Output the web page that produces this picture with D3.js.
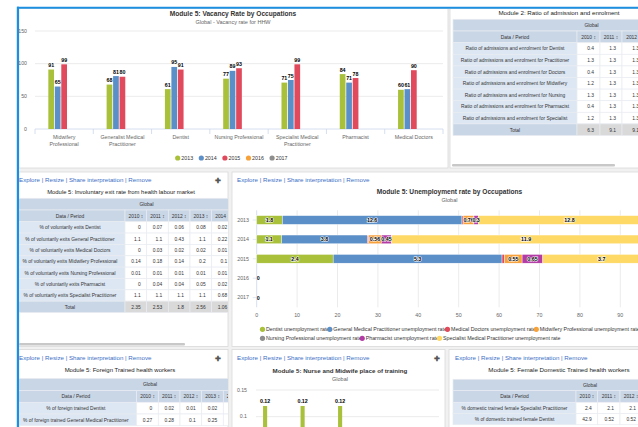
<!DOCTYPE html>
<html><head><meta charset="utf-8">
<script src="https://cdn.jsdelivr.net/npm/d3@7"></script>
<style>
html,body{margin:0;padding:0;background:#fff;overflow:hidden}
svg{display:block;font-family:"Liberation Sans",Arial,sans-serif}
</style></head><body>
<svg id="c" width="638" height="427"></svg>
<script>
// ---------------- DATA ----------------
// Vacancy rate chart
const vacancyCategories = ["Midwifery Professional","Generalist Medical Practitioner","Dentist","Nursing Professional","Specialist Medical Practitioner","Pharmacist","Medical Doctors"];
const vacancyCategoryLines = [["Midwifery","Professional"],["Generalist Medical","Practitioner"],["Dentist"],["Nursing Professional"],["Specialist Medical","Practitioner"],["Pharmacist"],["Medical Doctors"]];
const vacancyYears = ["2013","2014","2015","2016","2017"];
const vacancy2013 = [91,68,61,77,71,84,60];
const vacancy2014 = [65,81,95,89,75,71,61];
const vacancy2015 = [99,80,91,93,99,78,90];
const vacancy2016 = [null,null,null,null,null,null,null];
const vacancy2017 = [null,null,null,null,null,null,null];
const vacancyTicks = [0,50,100,150];
const yearColors = ["#a8c03a","#5b8fc8","#e14a5c","#f6a13a","#8e8e8e"];

// Ratio of admission and enrolment table
const ratioYears = ["2010","2011","2012"];
const ratioRows = ["Ratio of admissions and enrolment for Dentist","Ratio of admissions and enrolment for Practitioner","Ratio of admissions and enrolment for Doctors","Ratio of admissions and enrolment for Midwifery","Ratio of admissions and enrolment for Nursing","Ratio of admissions and enrolment for Pharmacist","Ratio of admissions and enrolment for Specialist"];
const ratio2010 = [0.4,1.3,0.4,1.2,1.3,0.4,1.2];
const ratio2011 = [1.3,1.3,1.3,1.3,1.3,1.3,1.3];
const ratio2012 = [1.3,1.3,1.3,1.3,1.3,1.3,1.3];
const ratioTotals = [6.3,9.1,9.1];

// Involuntary exit table
const exitYears = ["2010","2011","2012","2013","2014"];
const exitRows = ["% of voluntarily exits Dentist","% of voluntarily exits General Practitioner","% of voluntarily exits Medical Doctors","% of voluntarily exits Midwifery Professional","% of voluntarily exits Nursing Professional","% of voluntarily exits Pharmacist","% of voluntarily exits Specialist Practitioner"];
const exit2010 = [0,1.1,0,0.14,0.01,0,1.1];
const exit2011 = [0.07,1.1,0.03,0.18,0.01,0.04,1.1];
const exit2012 = [0.06,0.43,0.02,0.14,0.01,0.04,1.1];
const exit2013 = [0.08,1.1,0.02,0.2,0.01,0.05,1.1];
const exit2014 = [0.02,0.22,0.01,0.1,0.01,0.02,0.68];
const exitTotals = [2.35,2.53,1.8,2.56,1.06];

// Unemployment stacked chart
const unempYears = ["2013","2014","2015","2016","2017"];
const unempSeries = ["Dentist unemployment rate","General Medical Practitioner unemployment rate","Medical Doctors unemployment rate","Midwifery Professional unemployment rate","Nursing Professional unemployment rate","Pharmacist unemployment rate","Specialist Medical Practitioner unemployment rate"];
const unempColors = ["#a8c03a","#5b8fc8","#e14a5c","#f6a13a","#8e8e8e","#b23ba6","#fed966"];
const unempDentist = [1.8,1.1,2.4,0,0];
const unempGeneral = [12.6,3.8,5.3,0,0];
const unempDoctors = [0.08,0.05,0.08,0,0];
const unempMidwifery = [0.76,0.56,0.55,0,0];
const unempNursing = [0,0,0,0,0];
const unempPharmacist = [0.3,0.45,0.65,0,0];
const unempSpecialist = [12.8,11.9,3.7,0,0];
const unempTicks = [0,10,20,30,40,50,60,70,80,90,100];

// Foreign trained table
const foreignYears = ["2010","2011","2012","2013","2014"];
const foreignRows = ["% of foreign trained Dentist","% of foreign trained General Medical Practitioner"];
const foreign2010 = [0,0.27];
const foreign2011 = [0.02,0.28];
const foreign2012 = [0.01,0.1];
const foreign2013 = [0.02,0.25];
const foreign2014 = [0.02,0.2];

// Nurse and midwife place of training
const trainingCategories = ["Domestic public","Domestic private","Foreign","Unknown","Other"];
const trainingYears = ["2013","2014","2015","2016","2017"];
const training2013 = [0.12,0.12,0.12,null,null];
const trainingTicks = [0,0.05,0.1,0.15];

// Female domestic trained table
const femaleYears = ["2010","2011","2012"];
const femaleRows = ["% domestic trained female Specialist Practitioner","% of domestic trained female Dentist"];
const female2010 = [2.4,42.9];
const female2011 = [2.1,0.52];
const female2012 = [2.1,0.52];

// ---------------- DRAWING ----------------
const svg = d3.select("#c");
svg.append("rect").attr("width",638).attr("height",427).attr("fill","#f1f1f1");
svg.append("rect").attr("x",0).attr("y",0).attr("width",638).attr("height",7).attr("fill","#fff");
svg.append("rect").attr("x",0).attr("y",0).attr("width",17).attr("height",427).attr("fill","#fff");

const defs = svg.append("defs");
let clipN = 0;
function panel(x,y,w,h){
  const id = "clip"+(clipN++);
  defs.append("clipPath").attr("id",id).append("rect").attr("x",x).attr("y",y).attr("width",w).attr("height",h);
  svg.append("rect").attr("x",x).attr("y",y).attr("width",w).attr("height",h).attr("fill","#fff").attr("stroke","#d9d9d9").attr("stroke-width",0.8);
  return svg.append("g").attr("clip-path",`url(#${id})`);
}
function links(g,x,y,plusX){
  g.append("text").attr("x",x).attr("y",y).attr("font-size",6.2).attr("fill","#3d6fc6")
   .text("Explore | Resize | Share interpretation | Remove");
  if(plusX!=null) g.append("text").attr("x",plusX).attr("y",y+0.5).attr("font-size",7).attr("font-weight","bold").attr("fill","#555").attr("text-anchor","middle").text("✚");
}
const fmt = v => v==null ? "" : String(+(+v).toFixed(2));

function drawTable(g,cfg){
  const {cols,yTop,gH,hH,rowH,rows,years,columns,totals,title,titleX,titleY,globalR} = cfg;
  g.append("text").attr("x",titleX).attr("y",titleY).attr("text-anchor","middle").attr("font-size",cfg.titleSize||6).attr("fill","#222").text(title);
  const L = cols[0], R = globalR;
  const cell = (x0,x1,y0,y1,fill)=> g.append("rect").attr("x",x0).attr("y",y0).attr("width",x1-x0).attr("height",y1-y0).attr("fill",fill).attr("stroke","#e8ecf1").attr("stroke-width",0.7);
  const txt = (x,y,s,anchor,color)=> g.append("text").attr("x",x).attr("y",y).attr("text-anchor",anchor).attr("font-size",4.9).attr("fill",color||"#333").text(s);
  // Global row
  cell(L,R,yTop,yTop+gH,"#c9d6e6");
  txt((L+R)/2,yTop+gH/2+1.8,"Global","middle");
  const y1 = yTop+gH;
  cell(cols[0],cols[1],y1,y1+hH,"#c9d6e6");
  txt((cols[0]+cols[1])/2,y1+hH/2+1.8,"Data / Period","middle");
  years.forEach((yr,i)=>{
    cell(cols[i+1],cols[i+2],y1,y1+hH,"#c9d6e6");
    txt((cols[i+1]+cols[i+2])/2,y1+hH/2+1.8,yr+" \u2195","middle");
  });
  let y = y1+hH;
  rows.forEach((r,ri)=>{
    cell(cols[0],cols[1],y,y+rowH,"#dde7f3");
    txt((cols[0]+cols[1])/2,y+rowH/2+1.8,r,"middle");
    years.forEach((yr,i)=>{
      cell(cols[i+1],cols[i+2],y,y+rowH,"#fff");
      txt(cols[i+2]-6,y+rowH/2+1.8,fmt(columns[i][ri]),"end");
    });
    y += rowH;
  });
  if(totals){
    cell(cols[0],cols[1],y,y+rowH,"#c9d6e6");
    txt((cols[0]+cols[1])/2,y+rowH/2+1.8,"Total","middle");
    years.forEach((yr,i)=>{
      cell(cols[i+1],cols[i+2],y,y+rowH,"#d9d9d9");
      txt(cols[i+2]-6,y+rowH/2+1.8,fmt(totals[i]),"end");
    });
  }
}

// ---- Panel 1: Vacancy rate ----
{
  const g = panel(19,8.5,429,159.5);
  g.append("text").attr("x",233).attr("y",15.5).attr("text-anchor","middle").attr("font-size",6.6).attr("font-weight","bold").attr("fill","#333").text("Module 5: Vacancy Rate by Occupations");
  g.append("text").attr("x",233).attr("y",23.5).attr("text-anchor","middle").attr("font-size",5.5).attr("fill","#666").text("Global - Vacancy rate for HHW");
  const x0 = d3.scaleBand().domain(vacancyCategories).range([35,443]);
  const bw = x0.bandwidth();
  const x1 = d3.scaleBand().domain(vacancyYears).range([bw/2-15.8,bw/2+15.8]).paddingInner(0.12);
  const y = d3.scaleLinear().domain([0,150]).range([129,31]);
  const yAxis = g.append("g");
  vacancyTicks.forEach(t=>{
    if(t>0) yAxis.append("line").attr("x1",35).attr("x2",443).attr("y1",y(t)).attr("y2",y(t)).attr("stroke","#e6e6e6").attr("stroke-width",0.8);
    yAxis.append("text").attr("x",27).attr("y",y(t)+1.8).attr("text-anchor","end").attr("font-size",5.2).attr("fill","#666").text(t);
  });
  g.append("line").attr("x1",35).attr("x2",443).attr("y1",y(0)).attr("y2",y(0)).attr("stroke","#ccd6eb").attr("stroke-width",0.8);
  const ticksX = vacancyCategories.map(c=>x0(c)).concat([443]);
  ticksX.forEach(tx=> g.append("line").attr("x1",tx).attr("x2",tx).attr("y1",y(0)).attr("y2",y(0)+5).attr("stroke","#ccd6eb").attr("stroke-width",0.8));
  const series = [vacancy2013,vacancy2014,vacancy2015,vacancy2016,vacancy2017];
  vacancyCategories.forEach((c,ci)=>{
    vacancyYears.forEach((yr,si)=>{
      const v = series[si][ci];
      if(v==null) return;
      const bx = x0(c)+x1(yr);
      g.append("rect").attr("x",bx).attr("y",y(v)).attr("width",x1.bandwidth()).attr("height",y(0)-y(v)).attr("fill",yearColors[si]);
      g.append("text").attr("x",bx+x1.bandwidth()/2).attr("y",y(v)-2.5).attr("text-anchor","middle").attr("font-size",5.3).attr("font-weight","bold")
        .attr("fill","#000").attr("stroke","#fff").attr("stroke-width",1.2).attr("paint-order","stroke").text(v);
    });
    vacancyCategoryLines[ci].forEach((ln,li)=>{
      g.append("text").attr("x",x0(c)+bw/2).attr("y",139+li*7.3).attr("text-anchor","middle").attr("font-size",5.3).attr("fill","#666").text(ln);
    });
  });
  // legend
  const lg = g.append("g");
  let lx = 177.7;
  vacancyYears.forEach((yr,i)=>{
    lg.append("circle").attr("cx",lx).attr("cy",158).attr("r",2.6).attr("fill",yearColors[i]);
    const t = lg.append("text").attr("x",lx+3.6).attr("y",159.9).attr("font-size",5.3).attr("fill","#333").text(yr);
    lx += 3.6 + t.node().getComputedTextLength() + 8.2;
  });
}

// ---- Panel 2: Ratio table ----
{
  const g = panel(450,8.5,200,159.5);
  drawTable(g,{cols:[453,577,600,622,645],globalR:730,yTop:19.3,gH:11.7,hH:11.7,rowH:11.6,rows:ratioRows,years:ratioYears,
    columns:[ratio2010,ratio2011,ratio2012],totals:ratioTotals,title:"Module 2: Ratio of admission and enrolment",titleX:559,titleY:15,titleSize:6.2});
  g.append("rect").attr("x",452).attr("y",164).attr("width",163).attr("height",2.5).attr("rx",1).attr("fill","#c8c8c8");
}

// ---- Panel 3: Involuntary exit table ----
{
  const g = panel(19,172,209,174.5);
  links(g,19,182,218);
  drawTable(g,{cols:[15,125,146.7,168.3,190,211.7,233.3],globalR:278,yTop:198.3,gH:11.7,hH:11.7,rowH:11.35,rows:exitRows,years:exitYears,
    columns:[exit2010,exit2011,exit2012,exit2013,exit2014],totals:exitTotals,title:"Module 5: Involuntary exit rate from health labour market",titleX:121,titleY:194,titleSize:5.9});
  g.append("rect").attr("x",19).attr("y",343).attr("width",166).attr("height",2.5).attr("rx",1).attr("fill","#c8c8c8");
}

// ---- Panel 4: Unemployment stacked ----
{
  const g = panel(232,172,420,174.5);
  links(g,237,182,null);
  g.append("text").attr("x",449.5).attr("y",194).attr("text-anchor","middle").attr("font-size",6.6).attr("font-weight","bold").attr("fill","#333").text("Module 5: Unemployment rate by Occupations");
  g.append("text").attr("x",449.5).attr("y",202).attr("text-anchor","middle").attr("font-size",5.5).attr("fill","#666").text("Global");
  const seriesVals = [unempDentist,unempGeneral,unempDoctors,unempMidwifery,unempNursing,unempPharmacist,unempSpecialist];
  const rows = unempYears.map((yr,i)=>{ const o={year:yr}; unempSeries.forEach((s,si)=>o[s]=seriesVals[si][i]); return o; });
  const stack = d3.stack().keys(unempSeries).offset(d3.stackOffsetExpand)(rows);
  const x = d3.scaleLinear().domain([0,100]).range([256.7,660.7]);
  const y = d3.scaleBand().domain(unempYears).range([210.3,307.3]).paddingInner(0.55).paddingOuter(0.275);
  unempTicks.forEach(t=>{
    if(t>0) g.append("line").attr("x1",x(t)).attr("x2",x(t)).attr("y1",210.3).attr("y2",307.3).attr("stroke","#e6e6e6").attr("stroke-width",0.8);
    g.append("text").attr("x",x(t)).attr("y",317).attr("text-anchor","middle").attr("font-size",5.3).attr("fill","#666").text(t);
  });
  g.append("line").attr("x1",x(0)).attr("x2",x(0)).attr("y1",210.3).attr("y2",307.3).attr("stroke","#ccd6eb").attr("stroke-width",0.8);
  unempYears.forEach(yr=>{
    g.append("text").attr("x",249).attr("y",y(yr)+y.bandwidth()/2+1.8).attr("text-anchor","end").attr("font-size",5.3).attr("fill","#666").text(yr);
    g.append("line").attr("x1",x(0)-4).attr("x2",x(0)).attr("y1",y(yr)+y.bandwidth()/2).attr("y2",y(yr)+y.bandwidth()/2).attr("stroke","#ccd6eb").attr("stroke-width",0.6);
  });
  stack.forEach((layer,si)=>{
    layer.forEach((d,i)=>{
      const w = x(d[1]*100)-x(d[0]*100);
      if(w<=0) return;
      g.append("rect").attr("x",x(d[0]*100)).attr("y",y(unempYears[i])).attr("width",w).attr("height",y.bandwidth()).attr("fill",unempColors[si]).attr("stroke","#fff").attr("stroke-width",0.4);
    });
  });
  const lbl = (xx,yy,s)=> g.append("text").attr("x",xx).attr("y",yy).attr("text-anchor","middle").attr("font-size",5.3).attr("font-weight","bold")
      .attr("fill","#000").attr("stroke","#fff").attr("stroke-width",1.1).attr("paint-order","stroke").text(s);
  stack.forEach((layer,si)=>{
    layer.forEach((d,i)=>{
      const share = d[1]-d[0];
      if(share < 0.01) return;
      lbl(x((d[0]+d[1])*50),y(unempYears[i])+y.bandwidth()/2+1.9,fmt(seriesVals[si][i]));
    });
  });
  unempYears.forEach((yr,i)=>{
    const tot = d3.sum(seriesVals,s=>s[i]);
    if(tot===0) lbl(x(0)+1.6,y(yr)+y.bandwidth()/2+1.9,"0");
  });
  // legend
  let lx = 262.5, ly = 329.3;
  unempSeries.forEach((s,i)=>{
    if(i===4){ lx = 262.5; ly = 338.3; }
    g.append("circle").attr("cx",lx).attr("cy",ly).attr("r",2.6).attr("fill",unempColors[i]);
    const t = g.append("text").attr("x",lx+3.5).attr("y",ly+1.9).attr("font-size",5.3).attr("fill","#333").text(s);
    lx += 3.5 + t.node().getComputedTextLength() + 0.5;
  });
}

// ---- Panel 5: Foreign trained table ----
{
  const g = panel(19,349.5,209,100);
  links(g,19,360,218);
  drawTable(g,{cols:[15,136.7,158.3,180,201.7,223.3,245],globalR:285,yTop:378.5,gH:12.2,hH:11.6,rowH:11.7,rows:foreignRows,years:foreignYears,
    columns:[foreign2010,foreign2011,foreign2012,foreign2013,foreign2014],totals:null,title:"Module 5: Foreign Trained health workers",titleX:120,titleY:372,titleSize:6});
}

// ---- Panel 6: Nurse and Midwife place of training ----
{
  const g = panel(232,349.5,213,100);
  links(g,237,360,437);
  g.append("text").attr("x",340).attr("y",372.5).attr("text-anchor","middle").attr("font-size",6.2).attr("font-weight","bold").attr("fill","#333").text("Module 5: Nurse and Midwife place of training");
  g.append("text").attr("x",340).attr("y",381).attr("text-anchor","middle").attr("font-size",5.5).attr("fill","#666").text("Global");
  const y = d3.scaleLinear().domain([0,0.15]).range([470,390]);
  const x0 = d3.scaleBand().domain(trainingCategories).range([256,443.5]);
  const x1 = d3.scaleBand().domain(trainingYears).range([x0.bandwidth()/2-11.7,x0.bandwidth()/2+11.7]).paddingInner(0.15);
  trainingTicks.forEach(t=>{
    g.append("line").attr("x1",256).attr("x2",439).attr("y1",y(t)).attr("y2",y(t)).attr("stroke","#e6e6e6").attr("stroke-width",0.8);
    g.append("text").attr("x",247).attr("y",y(t)+1.8).attr("text-anchor","end").attr("font-size",5.2).attr("fill","#666").text(t);
  });
  trainingCategories.forEach((c,ci)=>{
    const v = training2013[ci];
    if(v==null) return;
    const bx = x0(c)+x1("2013");
    g.append("rect").attr("x",bx).attr("y",y(v)).attr("width",x1.bandwidth()).attr("height",y(0)-y(v)).attr("fill",yearColors[0]);
    g.append("text").attr("x",bx+x1.bandwidth()/2).attr("y",y(v)-3).attr("text-anchor","middle").attr("font-size",5.3).attr("font-weight","bold")
      .attr("fill","#000").attr("stroke","#fff").attr("stroke-width",1.1).attr("paint-order","stroke").text(v);
  });
}

// ---- Panel 7: Female domestic trained table ----
{
  const g = panel(449,349.5,200,100);
  links(g,455,360,null);
  drawTable(g,{cols:[453,576,597.7,620,642],globalR:727,yTop:379.3,gH:11.4,hH:11.6,rowH:11.2,rows:femaleRows,years:femaleYears,
    columns:[female2010,female2011,female2012],totals:null,title:"Module 5: Female Domestic Trained health workers",titleX:559,titleY:372,titleSize:6.2});
}

// selection frame
svg.append("line").attr("x1",17.9).attr("x2",17.9).attr("y1",6.8).attr("y2",427).attr("stroke","#1d8fe1").attr("stroke-width",2.2);
svg.append("line").attr("x1",17).attr("x2",638).attr("y1",7.8).attr("y2",7.8).attr("stroke","#1d8fe1").attr("stroke-width",2);
</script>
</body></html>
